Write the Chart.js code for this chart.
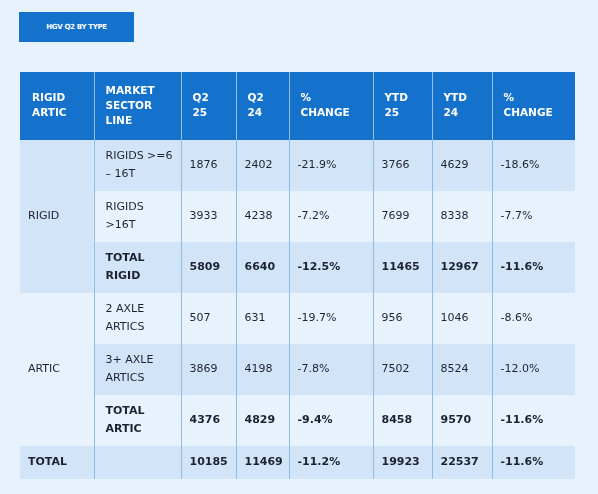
<!DOCTYPE html>
<html><head><meta charset="utf-8">
<script src="https://cdn.jsdelivr.net/npm/chart.js@4"></script>
<style>
html,body{margin:0;padding:0;background:#e8f2fd;width:598px;height:494px;overflow:hidden;font-family:"DejaVu Sans",sans-serif}
#title{position:absolute;left:19px;top:12px;width:115px;height:30px;background:#1472cc;color:#fff;font-weight:bold;font-size:7px;letter-spacing:-0.3px;display:flex;align-items:center;justify-content:center}
#wrap{position:absolute;left:20px;top:72px;width:555px;height:407px}
</style></head><body>
<div id="title">HGV Q2 BY TYPE</div>
<div id="wrap"><canvas id="c"></canvas></div>
<script>
const headers = [["RIGID","ARTIC"],["MARKET","SECTOR","LINE"],["Q2","25"],["Q2","24"],["%","CHANGE"],["YTD","25"],["YTD","24"],["%","CHANGE"]];
const groups = ["RIGID","ARTIC","TOTAL"];
const groupRows = [[0,2],[3,5],[6,6]];
const sectorLines = [["RIGIDS >=6","– 16T"],["RIGIDS",">16T"],["TOTAL","RIGID"],["2 AXLE","ARTICS"],["3+ AXLE","ARTICS"],["TOTAL","ARTIC"],[""]];
const q225 = [1876,3933,5809,507,3869,4376,10185];
const q224 = [2402,4238,6640,631,4198,4829,11469];
const qChange = ["-21.9%","-7.2%","-12.5%","-19.7%","-7.8%","-9.4%","-11.2%"];
const ytd25 = [3766,7699,11465,956,7502,8458,19923];
const ytd24 = [4629,8338,12967,1046,8524,9570,22537];
const ytdChange = ["-18.6%","-7.7%","-11.6%","-8.6%","-12.0%","-11.6%","-11.6%"];
const boldRows = [2,5,6];

// layout (table units = px inside table box)
const colEdges = [0,73.5,160.5,215.5,268.5,352.5,411.5,471.5,555];
const rowEdges = [0,68,119,170,221,272,323,374,407];
const DARK="#d2e5f8", LIGHT="#e8f2fd", BLUE="#1472cc", LINE="#8fbde8", TXT="#1d2230";

const tablePlugin = {
  id:'table',
  beforeDraw(chart){
    const ctx=chart.ctx, xs=chart.scales.x, ys=chart.scales.y;
    const X=v=>xs.getPixelForValue(v), Y=v=>ys.getPixelForValue(v);
    ctx.save();
    // header
    ctx.fillStyle=BLUE; ctx.fillRect(X(0),Y(0),X(555)-X(0),Y(rowEdges[1])-Y(0));
    // body rows (from col 1)
    for(let r=0;r<7;r++){
      ctx.fillStyle = r%2===0?DARK:LIGHT;
      const c0 = r===6?0:1;
      ctx.fillRect(X(colEdges[c0]),Y(rowEdges[r+1]),X(555)-X(colEdges[c0]),Y(rowEdges[r+2])-Y(rowEdges[r+1]));
    }
    // group cells
    const gcol=[DARK,LIGHT];
    for(let g=0;g<2;g++){
      const [a,b]=groupRows[g];
      ctx.fillStyle=gcol[g];
      ctx.fillRect(X(0),Y(rowEdges[a+1]),X(colEdges[1])-X(0),Y(rowEdges[b+2])-Y(rowEdges[a+1]));
    }
    // vertical lines
    ctx.lineWidth=1;
    for(let i=1;i<colEdges.length-1;i++){
      const x=Math.round(X(colEdges[i]))+0.5;
      ctx.strokeStyle=LINE; ctx.beginPath(); ctx.moveTo(x,Y(rowEdges[1])); ctx.lineTo(x,Y(407)); ctx.stroke();
      ctx.strokeStyle="rgba(255,255,255,0.55)"; ctx.beginPath(); ctx.moveTo(x,Y(0)); ctx.lineTo(x,Y(rowEdges[1])); ctx.stroke();
    }
    // header text
    ctx.fillStyle="#fff"; ctx.font="bold 10.5px 'DejaVu Sans'"; ctx.textBaseline="middle";
    headers.forEach((h,i)=>{
      const cy=(rowEdges[0]+rowEdges[1])/2, lh=15;
      h.forEach((t,k)=>ctx.fillText(t,X(colEdges[i]+12),Y(cy+(k-(h.length-1)/2)*lh)));
    });
    // body
    ctx.fillStyle=TXT;
    const cols=[q225,q224,qChange,ytd25,ytd24,ytdChange];
    for(let r=0;r<7;r++){
      const cy=(rowEdges[r+1]+rowEdges[r+2])/2;
      const b=boldRows.includes(r);
      ctx.font=(b?"bold ":"")+"11px 'DejaVu Sans'";
      const s=sectorLines[r];
      s.forEach((t,k)=>ctx.fillText(t,X(colEdges[1]+12),Y(cy+(k-(s.length-1)/2)*18)));
      cols.forEach((col,ci)=>ctx.fillText(String(col[r]),X(colEdges[ci+2]+9),Y(cy)));
    }
    groups.forEach((g,gi)=>{
      const [a,b]=groupRows[gi];
      ctx.font=(gi===2?"bold ":"")+"11px 'DejaVu Sans'";
      ctx.fillText(g,X(8),Y((rowEdges[a+1]+rowEdges[b+2])/2));
    });
    ctx.restore();
  }
};

new Chart(document.getElementById('c'),{
  type:'scatter',
  data:{datasets:[{data:[],}]},
  options:{responsive:true,maintainAspectRatio:false,animation:false,
    layout:{padding:0},
    plugins:{legend:{display:false},tooltip:{enabled:false}},
    scales:{x:{type:'linear',min:0,max:555,display:false},y:{type:'linear',min:0,max:407,reverse:true,display:false}}},
  plugins:[tablePlugin]
});
</script></body></html>
